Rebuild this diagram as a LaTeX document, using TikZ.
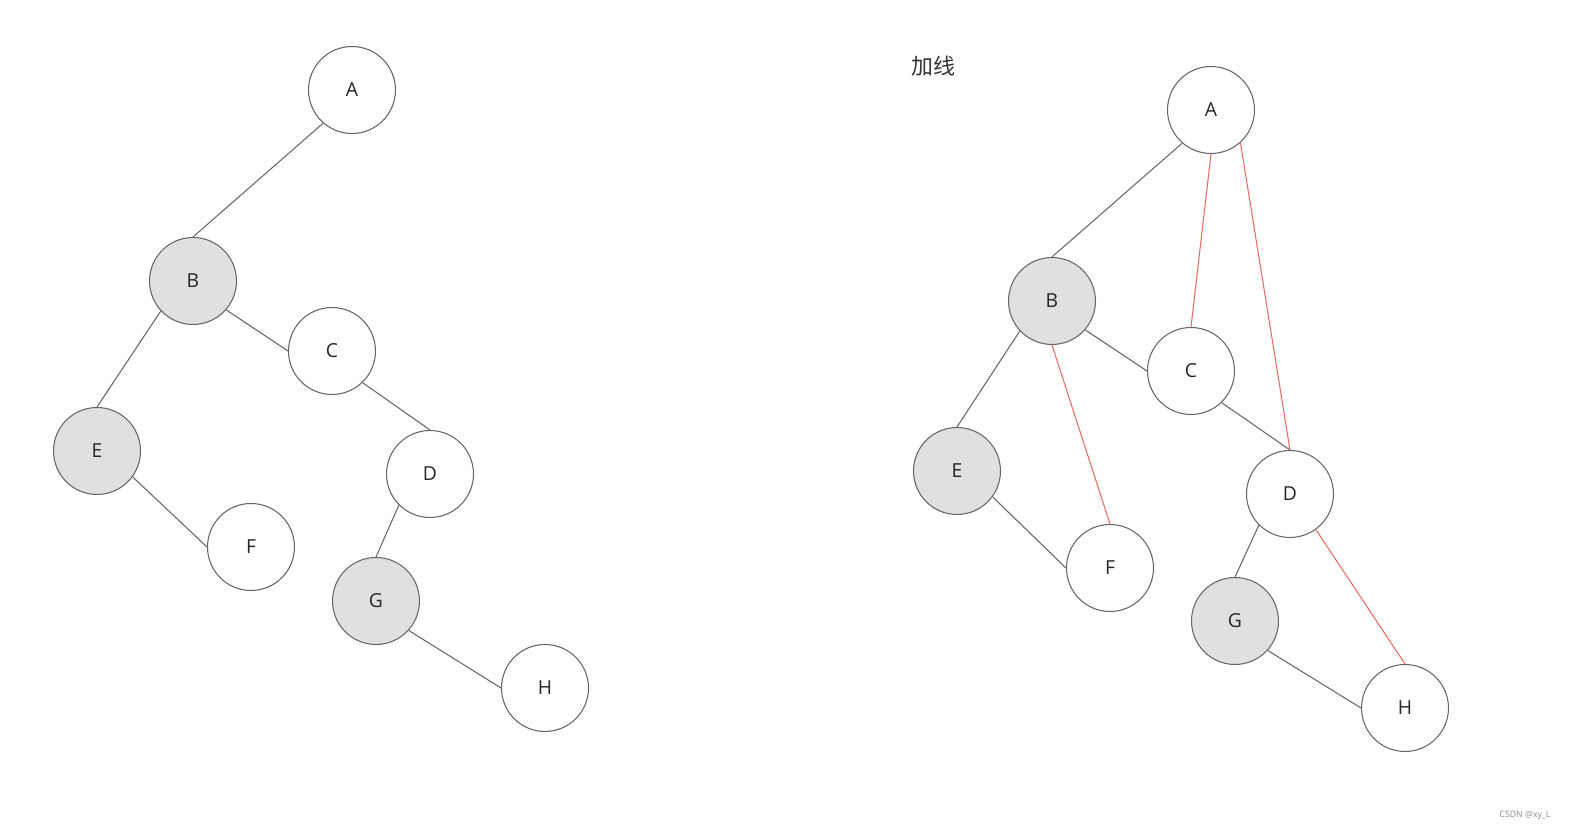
\documentclass[tikz,border=0pt]{standalone}
\usepackage{fontspec}
\setmainfont{Open Sans}
\newfontfamily\cjk{Noto Sans CJK SC}
\definecolor{strokegray}{HTML}{666666}
\definecolor{fillgray}{HTML}{E0E0E0}
\definecolor{addred}{HTML}{EA6B66}
\begin{document}
\begin{tikzpicture}[x=0.02cm,y=-0.02cm,
  vtx/.style={circle,draw=strokegray,line width=0.6pt,minimum size=1.74cm,inner sep=0pt,font=\fontsize{11}{13}\selectfont,text=black!85},
  wvtx/.style={vtx,fill=white},
  gvtx/.style={vtx,fill=fillgray},
  edge/.style={draw=strokegray,line width=0.6pt},
  added/.style={draw=addred,line width=0.6pt}]
\useasboundingbox (0,0) rectangle (1570,830);
% left tree
\node[wvtx] (lA) at (352,90) {A};
\node[gvtx] (lB) at (193,281) {B};
\node[wvtx] (lC) at (332,351) {C};
\node[gvtx] (lE) at (97,451) {E};
\node[wvtx] (lD) at (430,474) {D};
\node[wvtx] (lF) at (251,547) {F};
\node[gvtx] (lG) at (376,601) {G};
\node[wvtx] (lH) at (545,688) {H};
\draw[edge] (lA.229) -- (lB.north);
\draw[edge] (lB.-41) -- (lC.west);
\draw[edge] (lB.223) -- (lE.north);
\draw[edge] (lE.-36) -- (lF.west);
\draw[edge] (lC.-46) -- (lD.north);
\draw[edge] (lD.225) -- (lG.north);
\draw[edge] (lG.-42) -- (lH.west);
% right tree
\node[font=\cjk\fontsize{12.5}{14}\selectfont,text=black!80] (title) at (933,66) {加线};
\node[wvtx] (rA) at (1211,110) {A};
\node[gvtx] (rB) at (1052,301) {B};
\node[wvtx] (rC) at (1191,371) {C};
\node[gvtx] (rE) at (957,471) {E};
\node[wvtx] (rD) at (1290,494) {D};
\node[wvtx] (rF) at (1110,568) {F};
\node[gvtx] (rG) at (1235,621) {G};
\node[wvtx] (rH) at (1405,708) {H};
\draw[edge] (rA.229) -- (rB.north);
\draw[edge] (rB.-41) -- (rC.west);
\draw[edge] (rB.223) -- (rE.north);
\draw[edge] (rE.-36) -- (rF.west);
\draw[edge] (rC.-46) -- (rD.north);
\draw[edge] (rD.225) -- (rG.north);
\draw[edge] (rG.-42) -- (rH.west);
\draw[added] (rA.south) -- (rC.north);
\draw[added] (rA.-48) -- (rD.north);
\draw[added] (rB.south) -- (rF.north);
\draw[added] (rD.-54) -- (rH.north);
\node[font=\fontsize{5}{6}\selectfont,text=black!45] (mark) at (1525,815) {CSDN @xy\_L};
\end{tikzpicture}
\end{document}
